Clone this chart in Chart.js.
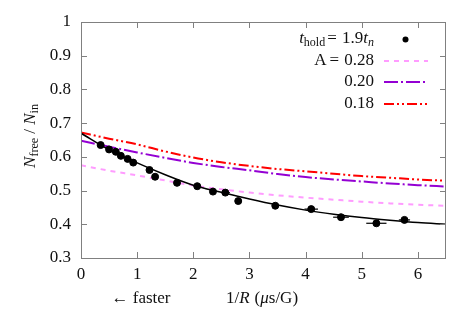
<!DOCTYPE html>
<html><head><meta charset="utf-8">
<script src="https://cdn.jsdelivr.net/npm/chart.js@4/dist/chart.umd.min.js"></script>
<style>html,body{margin:0;padding:0;background:#fff}#wrap{width:469px;height:325px}</style>
</head><body><div id="wrap"><canvas id="c" width="469" height="325"></canvas></div>
<script>
const dataX = [0.35,0.50,0.62,0.71,0.83,0.93,1.22,1.32,1.71,2.07,2.35,2.57,2.80,3.46,4.10,4.63,5.26,5.76];
const dataY = [0.635,0.622,0.615,0.603,0.594,0.583,0.561,0.541,0.523,0.513,0.497,0.494,0.469,0.455,0.445,0.421,0.403,0.413];
const dataXerr = [0.04,0.03,0.03,0.03,0.03,0.03,0.03,0.04,0.04,0.04,0.05,0.08,0.03,0.05,0.12,0.14,0.18,0.10];
const curveX = [0,0.5,1,1.5,2,2.5,3,3.5,4,4.5,5,5.5,6,6.5];
const fitY = [0.670,0.621,0.582,0.547,0.516,0.495,0.475,0.457,0.442,0.430,0.420,0.412,0.405,0.400];
const a028Y = [0.575,0.559,0.545,0.530,0.515,0.504,0.494,0.486,0.479,0.473,0.467,0.462,0.458,0.455];
const a020Y = [0.648,0.630,0.613,0.597,0.582,0.570,0.560,0.549,0.540,0.533,0.527,0.521,0.516,0.512];
const a018Y = [0.672,0.654,0.637,0.616,0.598,0.584,0.573,0.564,0.557,0.550,0.543,0.538,0.533,0.529];
const xTicks = [0,1,2,3,4,5,6];
const yTicks = [0.3,0.4,0.5,0.6,0.7,0.8,0.9,1];
const legendLabels = ["A = 0.28","0.20","0.18"];

const SERIF = '"Liberation Serif", "DejaVu Serif", serif';
const pts = (xs, ys) => xs.map((x,i)=>({x:x,y:ys[i]}));

const decor = {
  id:'decor',
  afterDatasetsDraw(chart){
    const ctx = chart.ctx, xs = chart.scales.x, ys = chart.scales.y;
    ctx.save();
    ctx.strokeStyle='#000'; ctx.lineWidth=1.2;
    dataX.forEach((x,i)=>{
      const y = ys.getPixelForValue(dataY[i]);
      ctx.beginPath();
      ctx.moveTo(xs.getPixelForValue(x-dataXerr[i]), y);
      ctx.lineTo(xs.getPixelForValue(x+dataXerr[i]), y);
      ctx.stroke();
    });
    ctx.restore();
  },
  afterDraw(chart){
    const ctx = chart.ctx, xs = chart.scales.x, ys = chart.scales.y, ca = chart.chartArea;
    ctx.save();
    ctx.strokeStyle='#808080'; ctx.lineWidth=1;
    ctx.strokeRect(ca.left+0.5, ca.top+0.5, ca.right-ca.left-1, ca.bottom-ca.top);
    const tl = 6;
    ctx.beginPath();
    xTicks.forEach(t=>{
      const px = Math.round(xs.getPixelForValue(t))+0.5;
      ctx.moveTo(px, ca.bottom); ctx.lineTo(px, ca.bottom-tl);
      ctx.moveTo(px, ca.top); ctx.lineTo(px, ca.top+tl);
    });
    yTicks.forEach(t=>{
      const py = Math.round(ys.getPixelForValue(t))+0.5;
      ctx.moveTo(ca.left, py); ctx.lineTo(ca.left+tl, py);
      ctx.moveTo(ca.right, py); ctx.lineTo(ca.right-tl, py);
    });
    ctx.stroke();
    ctx.restore();

    function drawRuns(runs, x, y, align){
      let w = 0;
      runs.forEach(r=>{ctx.font=r.f; w+=ctx.measureText(r.t).width + (r.sp||0);});
      let cx = align==='right' ? x-w : (align==='center'? x-w/2 : x);
      runs.forEach(r=>{ctx.font=r.f; ctx.fillText(r.t, cx, y+(r.dy||0)); cx+=ctx.measureText(r.t).width+(r.sp||0);});
    }
    const R = '17px '+SERIF, I = 'italic 17px '+SERIF, S = '12px '+SERIF, SI = 'italic 12px '+SERIF;
    ctx.save();
    ctx.fillStyle='#111'; ctx.textBaseline='alphabetic';
    const lx = 374;
    drawRuns([{t:'t',f:I},{t:'hold',f:S,dy:3,sp:2},{t:'= ',f:R,sp:1},{t:'1.9',f:R},{t:'t',f:I},{t:'n',f:SI,dy:3}], lx, 43, 'right');
    const rowsY=[65,86,108];
    drawRuns([{t:'A',f:R,sp:3},{t:'= ',f:R,sp:1},{t:'0.28',f:R}], lx, rowsY[0], 'right');
    drawRuns([{t:legendLabels[1],f:R}], lx, rowsY[1], 'right');
    drawRuns([{t:legendLabels[2],f:R}], lx, rowsY[2], 'right');
    ctx.fillStyle='#000';
    ctx.beginPath(); ctx.arc(405.5, 39.5, 3, 0, Math.PI*2); ctx.fill();
    const ds = chart.data.datasets;
    const lineY=[61,82,104];
    [1,2,3].forEach((di,i)=>{
      const d = ds[di];
      ctx.save();
      ctx.strokeStyle=d.borderColor; ctx.lineWidth=d.borderWidth; ctx.setLineDash(d.borderDash||[]);
      ctx.beginPath(); ctx.moveTo(384,lineY[i]); ctx.lineTo(428,lineY[i]); ctx.stroke();
      ctx.restore();
    });
    ctx.fillStyle='#111';
    drawRuns([{t:'← faster',f:R}], 141, 303, 'center');
    drawRuns([{t:'1/',f:R},{t:'R',f:I,sp:5},{t:'(',f:R},{t:'μ',f:I},{t:'s/G)',f:R}], 262, 303, 'center');
    ctx.translate(29, 136); ctx.rotate(-Math.PI/2);
    drawRuns([{t:'N',f:I},{t:'free',f:S,dy:3},{t:' / ',f:R},{t:'N',f:I},{t:'in',f:S,dy:3}], 0, 6, 'center');
    ctx.restore();
  }
};

new Chart(document.getElementById('c'), {
  type:'scatter',
  data:{datasets:[
    {label:'fit', data:pts(curveX, fitY), showLine:true, borderColor:'#000', borderWidth:1.5, pointRadius:0, cubicInterpolationMode:'monotone', order:2},
    {label:legendLabels[0], data:pts(curveX, a028Y), showLine:true, borderColor:'#ff9cff', borderWidth:2, borderDash:[5,5], pointRadius:0, cubicInterpolationMode:'monotone', order:3},
    {label:legendLabels[1], data:pts(curveX, a020Y), showLine:true, borderColor:'#9400d3', borderWidth:2, borderDash:[14,3,2,3], pointRadius:0, cubicInterpolationMode:'monotone', order:4},
    {label:legendLabels[2], data:pts(curveX, a018Y), showLine:true, borderColor:'#ff0000', borderWidth:2, borderDash:[10,3,2,3,2,3], pointRadius:0, cubicInterpolationMode:'monotone', order:5},
    {label:'data', data:pts(dataX, dataY), showLine:false, backgroundColor:'#000', borderColor:'#000', pointRadius:3.5, order:1}
  ]},
  options:{
    responsive:false, animation:false, devicePixelRatio:1,
    layout:{padding:{left:0,right:23,top:22,bottom:0}},
    plugins:{legend:{display:false}, tooltip:{enabled:false}},
    scales:{
      x:{type:'linear', min:0, max:6.5,
        afterBuildTicks(s){ s.ticks = xTicks.map(v=>({value:v})); },
        afterFit(s){ s.height = 67; },
        grid:{display:false, drawTicks:false}, border:{display:false},
        ticks:{color:'#111', font:{family:SERIF, size:17}, padding:6, maxRotation:0, callback:v=>String(v)}},
      y:{type:'linear', min:0.3, max:1,
        afterBuildTicks(s){ s.ticks = yTicks.map(v=>({value:v})); },
        afterFit(s){ s.width = 81; },
        grid:{display:false, drawTicks:false}, border:{display:false},
        ticks:{color:'#111', font:{family:SERIF, size:17}, padding:10, callback:v=>String(Math.round(v*10)/10)}}
    }
  },
  plugins:[decor]
});
</script></body></html>
